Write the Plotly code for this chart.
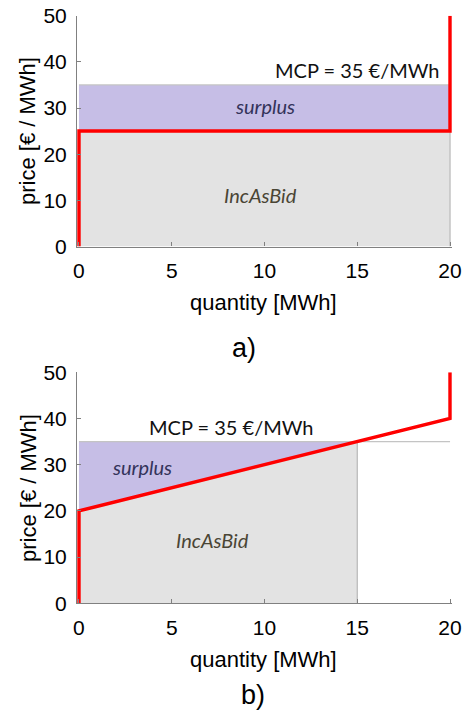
import plotly.graph_objects as go

# ---- data ----
quantity_a = [0, 0, 20, 20]
price_a = [0, 25, 25, 50]
quantity_b = [0, 0, 20, 20]
price_b = [0, 20, 40, 50]
mcp = 35
cleared_a = 20
cleared_b = 15
x_ticks = [0, 5, 10, 15, 20]
y_ticks = [0, 10, 20, 30, 40, 50]
panel_labels = ["a)", "b)"]

W, H = 467, 712
RED = "#ff0000"
LAV = "#c6bee6"
GRAY = "#e3e3e3"
LINEGRAY = "#c4c4c4"
SANS = "Liberation Sans"

fig = go.Figure()

def add_panel(xa, ya, q, p, cleared, surplus_pos, inc_pos, mcp_pos):
    start_price = p[1]
    if p[1] == p[2]:
        inc_x = [0, cleared, cleared, 0]
        inc_y = [0, 0, p[1], p[1]]
        sur_x = [0, cleared, cleared, 0]
        sur_y = [p[1], p[1], mcp, mcp]
    else:
        inc_x = [0, cleared, cleared, 0]
        inc_y = [0, 0, mcp, start_price]
        sur_x = [0, cleared, 0]
        sur_y = [start_price, mcp, mcp]
    fig.add_trace(go.Scatter(x=inc_x, y=inc_y, fill="toself", fillcolor=GRAY,
                             line=dict(width=0), mode="lines", xaxis=xa, yaxis=ya,
                             showlegend=False, hoverinfo="skip"))
    fig.add_trace(go.Scatter(x=sur_x, y=sur_y, fill="toself", fillcolor=LAV,
                             line=dict(width=0), mode="lines", xaxis=xa, yaxis=ya,
                             showlegend=False, hoverinfo="skip"))
    fig.add_trace(go.Scatter(x=[0, 20], y=[mcp, mcp], mode="lines",
                             line=dict(color=LINEGRAY, width=1.2), xaxis=xa, yaxis=ya,
                             showlegend=False, hoverinfo="skip"))
    fig.add_trace(go.Scatter(x=[cleared, cleared], y=[0, mcp], mode="lines",
                             line=dict(color="#b8b8b8", width=1.2), xaxis=xa, yaxis=ya,
                             showlegend=False, hoverinfo="skip"))
    fig.add_trace(go.Scatter(x=q, y=p, mode="lines",
                             line=dict(color=RED, width=3.5), xaxis=xa, yaxis=ya,
                             showlegend=False, hoverinfo="skip"))
    xr = "x" if xa == "x" else "x2"
    yr = "y" if ya == "y" else "y2"
    fig.add_annotation(x=surplus_pos[0], y=surplus_pos[1], xref=xr, yref=yr,
                       text="<i>surplus</i>", showarrow=False,
                       font=dict(family="Lato", size=20, color="#33335a"))
    fig.add_annotation(x=inc_pos[0], y=inc_pos[1], xref=xr, yref=yr,
                       text="<i>IncAsBid</i>", showarrow=False,
                       font=dict(family="Lato", size=20, color="#4a4535"))
    fig.add_annotation(x=mcp_pos[0], y=mcp_pos[1], xref=xr, yref=yr,
                       text=f"MCP = {mcp} €/MWh", showarrow=False,
                       font=dict(family="Lato", size=20, color="#111111"))

add_panel("x", "y", quantity_a, price_a, cleared_a, (10, 30.4), (9.8, 11.2), (15.0, 38.2))
add_panel("x2", "y2", quantity_b, price_b, cleared_b, (3.4, 29.6), (7.2, 13.7), (8.2, 38.2))

x_dom = [77.1 / W, 451.9 / W]
ydom_a = [1 - 246.5 / H, 1 - 15.7 / H]
ydom_b = [1 - 603.3 / H, 1 - 372.3 / H]

axis_common = dict(showgrid=False, zeroline=False, showline=True, linecolor="#808080",
                   linewidth=1.2, ticks="inside", ticklen=4, tickcolor="#808080",
                   automargin=False, ticklabelstandoff=5,
                   tickfont=dict(family=SANS, size=21, color="#000"))

fig.update_layout(
    template="none",
    width=W, height=H, margin=dict(l=0, r=0, t=0, b=0, pad=0),
    paper_bgcolor="white", plot_bgcolor="white",
    xaxis=dict(domain=x_dom, range=[-0.1, 20.1], anchor="y", tickvals=x_ticks, **axis_common),
    yaxis=dict(domain=ydom_a, range=[0, 50], anchor="x", tickvals=y_ticks, **axis_common),
    xaxis2=dict(domain=x_dom, range=[-0.1, 20.1], anchor="y2", tickvals=x_ticks, **axis_common),
    yaxis2=dict(domain=ydom_b, range=[0, 50], anchor="x2", tickvals=y_ticks, **axis_common),
)

title_font = dict(family=SANS, size=22, color="#000")
for yc_x, yc_y, lab_y, lab in [(302, 131, 348, panel_labels[0]), (659, 488, 695, panel_labels[1])]:
    fig.add_annotation(x=263 / W, y=1 - yc_x / H, xref="paper", yref="paper",
                       text="quantity [MWh]", showarrow=False, font=title_font,
                       xanchor="center", yanchor="middle")
    fig.add_annotation(x=28 / W, y=1 - yc_y / H, xref="paper", yref="paper",
                       text="price [€ / MWh]", showarrow=False, font=title_font,
                       textangle=-90, xanchor="center", yanchor="middle")
    fig.add_annotation(x=(244 if lab == "a)" else 253) / W, y=1 - lab_y / H,
                       xref="paper", yref="paper", text=lab, showarrow=False,
                       font=dict(family=SANS, size=27, color="#000"),
                       xanchor="center", yanchor="middle")

fig.write_html(
    "out.html",
    config={"displayModeBar": False},
    post_script="document.body.style.margin='0';document.body.style.overflow='hidden';",
)
